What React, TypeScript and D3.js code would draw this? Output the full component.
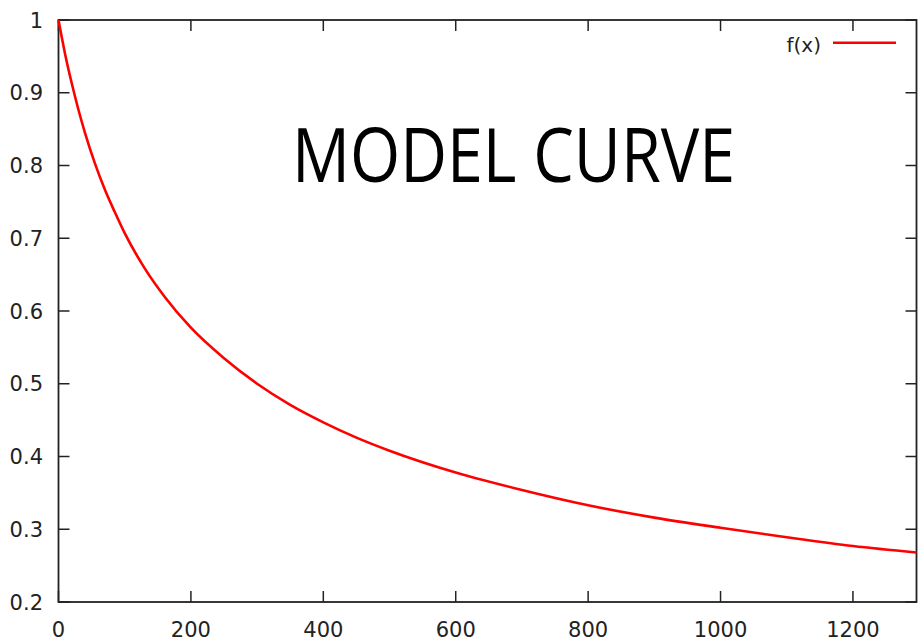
import React, { useRef, useEffect } from 'react';
import * as d3 from 'd3';

const xValues = [0, 5, 10, 20, 30, 40, 55, 70, 85, 100, 130, 160, 200, 250, 300, 350, 400, 450, 500, 600, 700, 800, 900, 1000, 1100, 1200, 1296];
const yValues = [1.0, 0.976, 0.953, 0.913, 0.877, 0.845, 0.803, 0.767, 0.736, 0.707, 0.659, 0.62, 0.577, 0.535, 0.5, 0.471, 0.447, 0.426, 0.408, 0.378, 0.354, 0.333, 0.316, 0.302, 0.289, 0.277, 0.268];

const xTicks = [0, 200, 400, 600, 800, 1000, 1200];
const yTicks = [0.2, 0.3, 0.4, 0.5, 0.6, 0.7, 0.8, 0.9, 1];

const title = 'MODEL CURVE';
const legendLabel = 'f(x)';

function App() {
  const ref = useRef<SVGSVGElement | null>(null);

  const width = 918;
  const height = 641;
  const plot = { left: 58.5, right: 916.5, top: 20, bottom: 602 };

  useEffect(() => {
    if (!ref.current) return;
    const svg = d3.select(ref.current);
    svg.selectAll('*').remove();

    const x = d3.scaleLinear().domain([0, 1296]).range([plot.left, plot.right]);
    const y = d3.scaleLinear().domain([0.2, 1]).range([plot.bottom, plot.top]);

    const tickLen = 11;
    const axisColor = '#222';
    const font = '"DejaVu Sans", sans-serif';

    // frame
    svg
      .append('rect')
      .attr('x', plot.left)
      .attr('y', plot.top)
      .attr('width', plot.right - plot.left)
      .attr('height', plot.bottom - plot.top)
      .attr('fill', 'none')
      .attr('stroke', axisColor)
      .attr('stroke-width', 1.8);

    // x ticks (bottom + mirrored top)
    const xt = svg.append('g');
    xTicks.forEach((t) => {
      const px = x(t);
      xt.append('line')
        .attr('x1', px).attr('x2', px)
        .attr('y1', plot.bottom).attr('y2', plot.bottom - tickLen)
        .attr('stroke', axisColor).attr('stroke-width', 1.5);
      xt.append('line')
        .attr('x1', px).attr('x2', px)
        .attr('y1', plot.top).attr('y2', plot.top + tickLen)
        .attr('stroke', axisColor).attr('stroke-width', 1.5);
      xt.append('text')
        .attr('x', px)
        .attr('y', 637)
        .attr('text-anchor', 'middle')
        .attr('font-family', font)
        .attr('font-size', 21)
        .attr('fill', '#222')
        .text(String(t));
    });

    // y ticks (left + mirrored right)
    const yt = svg.append('g');
    yTicks.forEach((t) => {
      const py = y(t);
      yt.append('line')
        .attr('x1', plot.left).attr('x2', plot.left + tickLen)
        .attr('y1', py).attr('y2', py)
        .attr('stroke', axisColor).attr('stroke-width', 1.5);
      yt.append('line')
        .attr('x1', plot.right).attr('x2', plot.right - tickLen)
        .attr('y1', py).attr('y2', py)
        .attr('stroke', axisColor).attr('stroke-width', 1.5);
      yt.append('text')
        .attr('x', 43)
        .attr('y', py + 7.5)
        .attr('text-anchor', 'end')
        .attr('font-family', font)
        .attr('font-size', 21)
        .attr('fill', '#222')
        .text(String(t));
    });

    const data = xValues.map((v, i) => ({ x: v, y: yValues[i] }));

    svg
      .append('path')
      .datum(data)
      .attr('fill', 'none')
      .attr('stroke', '#ff0000')
      .attr('stroke-width', 2.6)
      .attr(
        'd',
        d3
          .line<{ x: number; y: number }>()
          .x((d) => x(d.x))
          .y((d) => y(d.y))
          .curve(d3.curveMonotoneX),
      );

    // legend
    svg
      .append('text')
      .attr('x', 821)
      .attr('y', 52)
      .attr('text-anchor', 'end')
      .attr('font-family', font)
      .attr('font-size', 20)
      .attr('fill', '#222')
      .text(legendLabel);
    svg
      .append('line')
      .attr('x1', 833)
      .attr('x2', 896)
      .attr('y1', 42.7)
      .attr('y2', 42.7)
      .attr('stroke', '#ff0000')
      .attr('stroke-width', 2.6);

    // big title text
    svg
      .append('text')
      .attr('x', 292)
      .attr('y', 182)
      .attr('font-family', '"Open Sans", sans-serif')
      .attr('font-size', 75)
      .attr('textLength', 443)
      .attr('lengthAdjust', 'spacingAndGlyphs')
      .attr('fill', '#000')
      .text(title);
  }, []);

  return (
    <svg
      ref={ref}
      width={width}
      height={height}
      style={{ position: 'absolute', left: 0, top: 0, background: '#fff' }}
    />
  );
}

export default App;
